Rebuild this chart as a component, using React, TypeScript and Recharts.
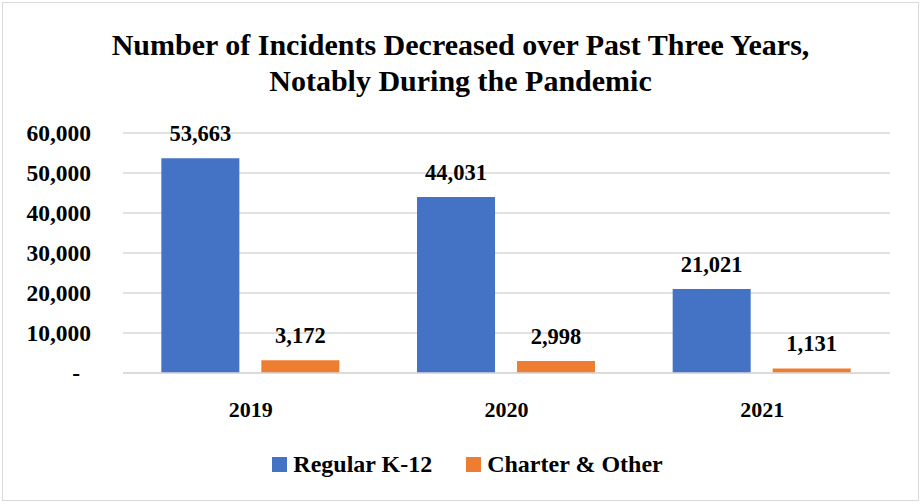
import { BarChart, Bar, XAxis, YAxis, CartesianGrid, Legend, LabelList } from "recharts";

const years = ["2019", "2020", "2021"];
const regularK12 = [53663, 44031, 21021];
const charterOther = [3172, 2998, 1131];
const yTicks = [0, 10000, 20000, 30000, 40000, 50000, 60000];

const seriesInfo = [
  { key: "regular", name: "Regular K-12", color: "#4472C4" },
  { key: "charter", name: "Charter & Other", color: "#ED7D31" },
];

const data = years.map((year, i) => ({
  year,
  regular: regularK12[i],
  charter: charterOther[i],
}));

const FONT = "'Liberation Serif', 'Times New Roman', serif";
const fmt = (v: number) => v.toLocaleString("en-US");

function YTick({ x, y, payload }: any) {
  const v = payload.value as number;
  return (
    <text
      x={v === 0 ? x - 11 : x}
      y={y}
      dy={8}
      textAnchor="end"
      fill="#000"
      fontFamily={FONT}
      fontWeight="bold"
      fontSize={23.5}
    >
      {v === 0 ? "-" : fmt(v)}
    </text>
  );
}

function LegendContent() {
  return (
    <div
      style={{
        height: 30,
        display: "flex",
        justifyContent: "center",
        alignItems: "center",
        fontFamily: FONT,
        fontWeight: "bold",
        fontSize: 24,
        color: "#000",
        paddingLeft: 14,
      }}
    >
      {seriesInfo.map((s, i) => (
        <div key={s.key} style={{ display: "flex", alignItems: "center", marginLeft: i ? 34 : 0 }}>
          <span style={{ width: 15, height: 15, background: s.color, marginRight: 6, display: "inline-block" }} />
          <span>{s.name}</span>
        </div>
      ))}
    </div>
  );
}

export default function App() {
  return (
    <div style={{ position: "absolute", left: 0, top: 0, width: 921, height: 504, background: "#fff" }}>
      <div
        style={{
          position: "absolute",
          left: 2,
          top: 2,
          width: 915,
          height: 497,
          border: "1px solid #d9d9d9",
        }}
      />
      <div
        style={{
          position: "absolute",
          left: 0,
          top: 27,
          width: 921,
          textAlign: "center",
          fontFamily: FONT,
          fontWeight: "bold",
          fontSize: 30,
          lineHeight: "36px",
          color: "#000",
        }}
      >
        Number of Incidents Decreased over Past Three Years,
        <br />
        Notably During the Pandemic
      </div>
      <div style={{ position: "absolute", left: 0, top: 0 }}>
        <BarChart
          width={921}
          height={504}
          data={data}
          margin={{ top: 133, right: 31, left: 0, bottom: 41 }}
          barCategoryGap="15%"
          barGap={22}
        >
          <CartesianGrid vertical={false} stroke="#d9d9d9" strokeWidth={1.5} />
          <XAxis
            dataKey="year"
            height={60}
            axisLine={{ stroke: "#d9d9d9", strokeWidth: 1.5 }}
            tickLine={false}
            tickMargin={22}
            tick={{ fill: "#000", fontFamily: FONT, fontWeight: "bold", fontSize: 22 }}
          />
          <YAxis
            width={123}
            domain={[0, 60000]}
            ticks={yTicks}
            axisLine={false}
            tickLine={false}
            tickMargin={26}
            tick={<YTick />}
          />
          <Legend
            verticalAlign="bottom"
            content={<LegendContent />}
            wrapperStyle={{ top: 449, bottom: "auto", left: 0, width: 921 }}
          />
          {seriesInfo.map((s) => (
            <Bar
              key={s.key}
              dataKey={s.key}
              name={s.name}
              fill={s.color}
              isAnimationActive={false}
            >
              <LabelList
                dataKey={s.key}
                position="top"
                offset={17}
                formatter={(v: any) => fmt(Number(v))}
                style={{ fill: "#000", fontFamily: FONT, fontWeight: "bold", fontSize: 22.5 }}
              />
            </Bar>
          ))}
        </BarChart>
      </div>
    </div>
  );
}
